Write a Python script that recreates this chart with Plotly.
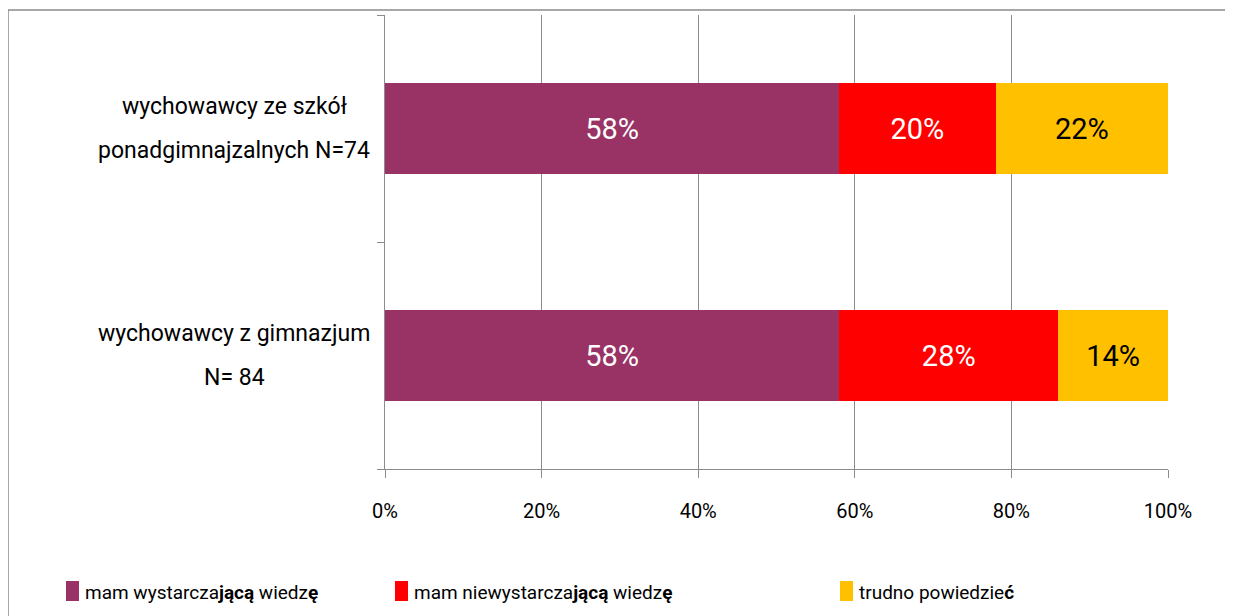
import plotly.graph_objects as go

categories = ["wychowawcy z gimnazjum<br>N= 84", "wychowawcy ze szkół<br>ponadgimnajzalnych N=74"]
series_names = ["mam wystarcza<b>jącą</b> wiedz<b>ę</b>",
                "mam niewystarcza<b>jącą</b> wiedz<b>ę</b>",
                "trudno powiedzie<b>ć</b>"]
values = [
    [58, 58],
    [28, 20],
    [14, 22],
]
colors = ["#993366", "#FF0000", "#FFC000"]
text_colors = ["white", "white", "black"]
xtick_vals = [0, 20, 40, 60, 80, 100]
xtick_text = ["0%", "20%", "40%", "60%", "80%", "100%"]

FONT = "Roboto, Liberation Sans, sans-serif"
OFF = 8  # browser body margin
W, H = 1233 - OFF, 616 - OFF
# plot area in page pixels: x 385..1168, y 15..469
PX0, PX1, PY0, PY1 = 385, 1168, 15, 469
L = PX0 - OFF
T = PY0 - OFF
R = W - (PX1 - OFF)
B = H - (PY1 - OFF)
pw, ph = PX1 - PX0, PY1 - PY0

def px_x(p):
    return (p - PX0) / pw

def px_y(p):
    return (PY1 - p) / ph

fig = go.Figure()
for name, vals, col, tc in zip(series_names, values, colors, text_colors):
    fig.add_trace(go.Bar(
        y=categories, x=vals, orientation="h", name=name,
        marker=dict(color=col, line=dict(width=0)),
        text=[f"{v}%" for v in vals], textposition="inside",
        insidetextanchor="middle",
        textfont=dict(color=tc, size=29, family=FONT),
        showlegend=False,
    ))

# category labels (centered multi-line, wide line spacing)
for c in categories:
    lines = c.split("<br>")
    n = len(lines)
    for i, ln in enumerate(lines):
        shift = (-(i - (n - 1) / 2)) * 44
        fig.add_annotation(x=px_x(234), xref="paper", y=c, yref="y", text=ln,
                           showarrow=False, align="center", xanchor="center",
                           yanchor="middle", yshift=shift,
                           font=dict(size=23, family=FONT, color="black"))

# manual legend
leg_x = [66, 395, 840]
for name, col, lx in zip(series_names, colors, leg_x):
    fig.add_shape(type="rect", xref="paper", yref="paper",
                  x0=px_x(lx), x1=px_x(lx + 13), y0=px_y(601), y1=px_y(581),
                  fillcolor=col, line=dict(width=0))
    fig.add_annotation(x=px_x(lx + 17), xref="paper", y=px_y(592), yref="paper",
                       text=name, showarrow=False, xanchor="left", yanchor="middle",
                       font=dict(size=19, family=FONT, color="black"))

# outer border
fig.add_shape(type="rect", xref="paper", yref="paper",
              x0=px_x(8), x1=px_x(1245), y0=px_y(630), y1=px_y(10),
              line=dict(color="#8c8c8c", width=1.5), fillcolor="rgba(0,0,0,0)")

fig.update_layout(
    barmode="stack", bargap=0.595,
    width=W, height=H,
    margin=dict(l=L, r=R, t=T, b=B),
    paper_bgcolor="white", plot_bgcolor="white",
    font=dict(family=FONT, color="black"),
)
fig.update_xaxes(range=[0, 100], tickvals=xtick_vals, ticktext=xtick_text,
                 showgrid=True, gridcolor="#8c8c8c", gridwidth=1,
                 showline=True, linecolor="#8c8c8c", linewidth=1,
                 ticks="outside", ticklen=8, tickcolor="#8c8c8c",
                 ticklabelstandoff=16,
                 tickfont=dict(size=20, family=FONT, color="black"),
                 zeroline=False)
fig.update_yaxes(categoryorder="array", categoryarray=categories,
                 range=[-0.5, 1.5], showticklabels=False,
                 showline=True, linecolor="#8c8c8c", linewidth=1,
                 ticks="outside", ticklen=7, tickcolor="#8c8c8c",
                 tickson="boundaries", showgrid=False, zeroline=False)

fig.write_html("out.html")
